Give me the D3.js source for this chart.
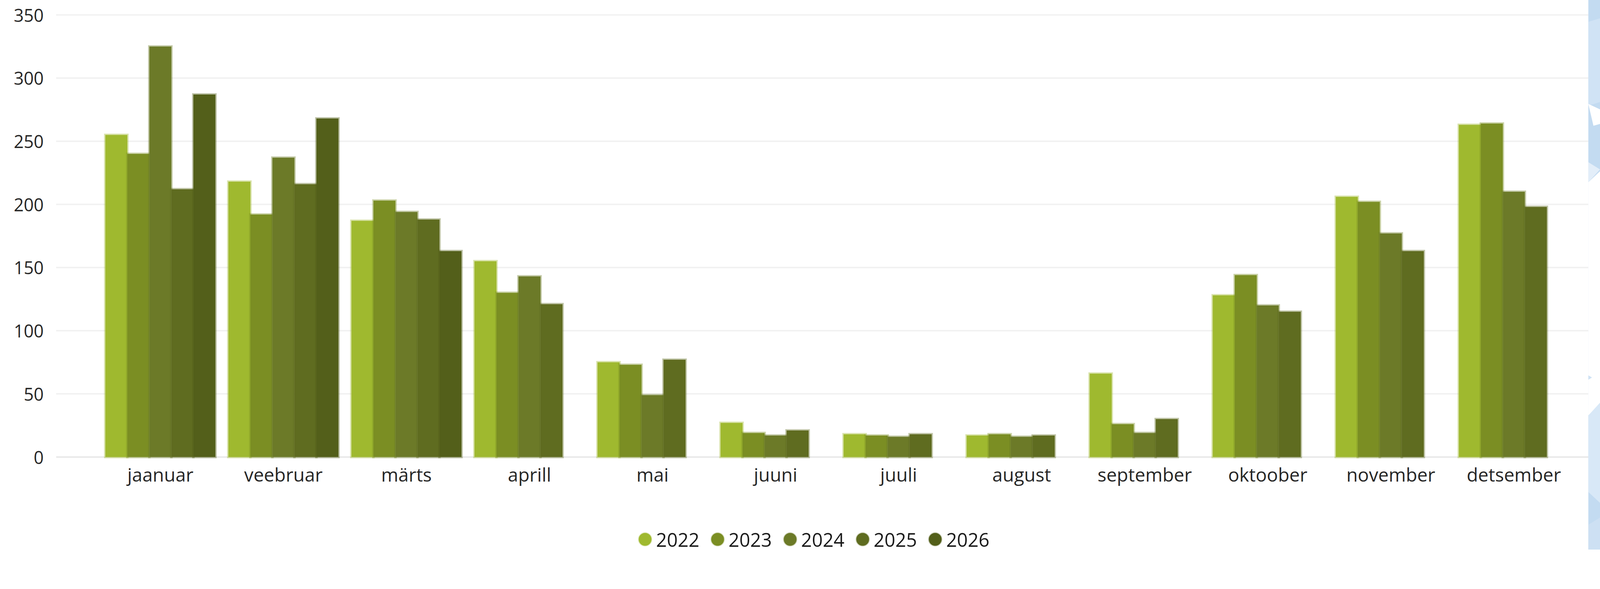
<!DOCTYPE html>
<html>
<head>
<meta charset="utf-8">
<script src="https://cdn.jsdelivr.net/npm/d3@7"></script>
<style>
  html, body { margin: 0; padding: 0; background: #fff; overflow: hidden; }
  svg { display: block; }
</style>
</head>
<body>
<div id="chart"></div>
<script>
// data
const months = ["jaanuar", "veebruar", "märts", "aprill", "mai", "juuni", "juuli", "august", "september", "oktoober", "november", "detsember"];
const years = ["2022", "2023", "2024", "2025", "2026"];
const v2022 = [255, 218, 187, 155, 75, 27, 18, 17, 66, 128, 206, 263];
const v2023 = [240, 192, 203, 130, 73, 19, 17, 18, 26, 144, 202, 264];
const v2024 = [325, 237, 194, 143, 49, 17, 16, 16, 19, 120, 177, 210];
const v2025 = [212, 216, 188, 121, 77, 21, 18, 17, 30, 115, 163, 198];
const v2026 = [287, 268, 163, null, null, null, null, null, null, null, null, null];
const yTicks = [0, 50, 100, 150, 200, 250, 300, 350];
const colors = ["#9fb92f", "#7b8e23", "#6c7a28", "#5f6c20", "#535f1a"];

const series = [v2022, v2023, v2024, v2025, v2026];

function draw() {
  const W = 4390, H = 1508;
  // scale to whatever the window is, keeping the 4390x1508 drawing space, pinned to the top
  const svg = d3.select("#chart").append("svg")
    .attr("viewBox", `0 0 ${W} ${H}`)
    .attr("preserveAspectRatio", "xMidYMin meet")
    .style("width", "100vw")
    .style("height", "100vh");

  const y = d3.scaleLinear().domain([0, 350]).range([1254, 41]);
  const x = d3.scaleBand().domain(months).range([271.2, 4322.4]).padding(0);
  const xi = d3.scaleBand().domain(years).range([0, x.bandwidth()])
    .paddingInner(0).paddingOuter(0.295);
  const color = d3.scaleOrdinal().domain(years).range(colors);

  // gridlines
  svg.append("g")
    .selectAll("line")
    .data(yTicks)
    .join("line")
      .attr("x1", 154)
      .attr("x2", 4358)
      .attr("y1", d => y(d))
      .attr("y2", d => y(d))
      .attr("stroke", d => d === 0 ? "#e8e8e8" : "#f1f1f1")
      .attr("stroke-width", 4);

  // y labels
  svg.append("g")
    .selectAll("text")
    .data(yTicks)
    .join("text")
      .attr("x", 120)
      .attr("y", d => y(d))
      .attr("text-anchor", "end")
      .attr("dominant-baseline", "central")
      .attr("font-family", "'Open Sans', 'Noto Sans', sans-serif")
      .attr("font-size", "48px")
      .attr("fill", "#262626")
      .text(d => d);

  // bars
  const rows = [];
  months.forEach((m, i) => {
    years.forEach((yr, j) => {
      const v = series[j][i];
      if (v != null) rows.push({month: m, year: yr, value: v});
    });
  });

  svg.append("g")
    .selectAll("rect")
    .data(rows)
    .join("rect")
      .attr("x", d => x(d.month) + xi(d.year))
      .attr("y", d => y(d.value))
      .attr("width", xi.bandwidth())
      .attr("height", d => y(0) - y(d.value))
      .attr("fill", d => color(d.year))
      .attr("stroke", d => color(d.year))
      .attr("stroke-opacity", 0.4)
      .attr("stroke-width", 7);

  // month labels
  svg.append("g")
    .selectAll("text")
    .data(months)
    .join("text")
      .attr("x", d => x(d) + x.bandwidth() / 2)
      .attr("y", 1321)
      .attr("text-anchor", "middle")
      .attr("font-family", "'Open Sans', 'Noto Sans', sans-serif")
      .attr("font-size", "51px")
      .attr("fill", "#262626")
      .text(d => d);

  // legend
  const leg = svg.append("g")
    .selectAll("g")
    .data(years)
    .join("g")
      .attr("transform", (d, i) => `translate(${1770 + i * 199},1480)`);
  leg.append("circle")
    .attr("r", 17.5)
    .attr("fill", d => color(d))
    .attr("stroke", d => color(d))
    .attr("stroke-opacity", 0.3)
    .attr("stroke-width", 4);
  leg.append("text")
    .attr("x", 30)
    .attr("dominant-baseline", "central")
    .attr("font-family", "'Open Sans', 'Noto Sans', sans-serif")
    .attr("font-size", "52px")
    .attr("fill", "#1a1a1a")
    .text(d => d);

  // blue decorative strip on the right edge
  const deco = svg.append("g");
  deco.append("rect")
    .attr("x", 4358).attr("y", 0)
    .attr("width", 32).attr("height", H)
    .attr("fill", "#c3dbf1");
  deco.append("polygon")
    .attr("points", "4358,60 4390,50 4390,280 4358,290")
    .attr("fill", "#d0e3f5");
  deco.append("polygon")
    .attr("points", "4358,285 4390,300 4390,340 4372,345")
    .attr("fill", "#ffffff");
  deco.append("polygon")
    .attr("points", "4358,445 4390,465 4358,500")
    .attr("fill", "#e3eef9");
  deco.append("polygon")
    .attr("points", "4358,500 4390,470 4390,1110 4358,1140")
    .attr("fill", "#ffffff");
  deco.append("polygon")
    .attr("points", "4358,1030 4368,1036 4358,1042")
    .attr("fill", "#cfe2f4");
  deco.append("polygon")
    .attr("points", "4358,1140 4390,1105 4390,1380 4358,1350")
    .attr("fill", "#d8e8f7");
  deco.append("polygon")
    .attr("points", "4358,1440 4390,1420 4390,1508 4358,1508")
    .attr("fill", "#cde0f3");
}

draw();
</script>
</body>
</html>
